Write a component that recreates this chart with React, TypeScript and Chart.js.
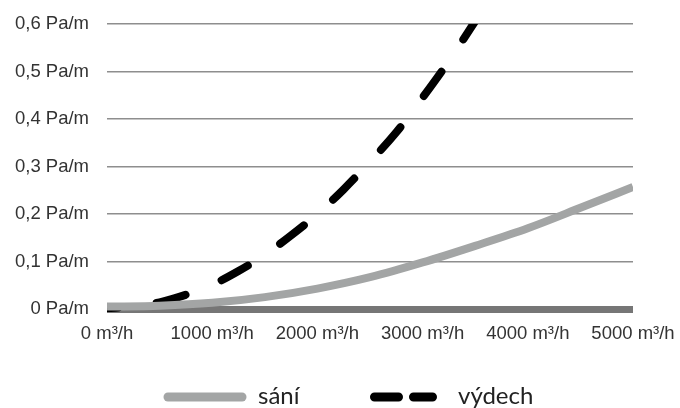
import React, { useEffect, useRef } from 'react';
import { Chart, registerables } from 'chart.js';

Chart.register(...registerables);

// ---- data ----
const seriesLabels = ['sání', 'výdech'];
const xTickValues = [0, 1000, 2000, 3000, 4000, 5000];
const xTickLabels = ['0 m³/h', '1000 m³/h', '2000 m³/h', '3000 m³/h', '4000 m³/h', '5000 m³/h'];
const yTickValues = [0, 0.1, 0.2, 0.3, 0.4, 0.5, 0.6];
const yTickLabels = ['0 Pa/m', '0,1 Pa/m', '0,2 Pa/m', '0,3 Pa/m', '0,4 Pa/m', '0,5 Pa/m', '0,6 Pa/m'];

const saniFlow = [0, 500, 1000, 1500, 2000, 2500, 3000, 3500, 4000, 4500, 5000];
const saniValues = [0.005, 0.007, 0.013, 0.025, 0.043, 0.067, 0.098, 0.133, 0.17, 0.213, 0.257];

const vydechFlow = [0, 250, 500, 750, 1000, 1250, 1500, 1750, 2000, 2250, 2500, 2750, 3000, 3250, 3500, 3600];
const vydechValues = [0.002, 0.005, 0.014, 0.03, 0.051, 0.08, 0.114, 0.155, 0.2, 0.252, 0.31, 0.372, 0.445, 0.522, 0.606, 0.64];

const SANI_COLOR = '#a3a5a5';
const VYDECH_COLOR = '#000000';
const GRID_COLOR = '#8e8e8e';
const ZERO_COLOR = '#767676';
const TEXT_COLOR = '#333333';
const TICK_FONT = { family: '"Liberation Sans", Arial, sans-serif', size: 18.5 };

const legendPlugin = {
  id: 'lineLegend',
  afterDraw(chart: any) {
    const ctx = chart.ctx as CanvasRenderingContext2D;
    const cx = chart.width / 2;
    const y = chart.height - 11;
    ctx.save();
    ctx.lineCap = 'round';
    ctx.lineWidth = 9;
    // sání
    ctx.strokeStyle = SANI_COLOR;
    ctx.beginPath();
    ctx.moveTo(cx - 172, y);
    ctx.lineTo(cx - 98, y);
    ctx.stroke();
    // výdech
    ctx.strokeStyle = VYDECH_COLOR;
    ctx.beginPath();
    ctx.moveTo(cx + 34.5, y);
    ctx.lineTo(cx + 58.5, y);
    ctx.moveTo(cx + 73.5, y);
    ctx.lineTo(cx + 92.5, y);
    ctx.stroke();
    ctx.fillStyle = '#222222';
    ctx.font = '24px Lato';
    ctx.textBaseline = 'alphabetic';
    ctx.textAlign = 'left';
    ctx.fillText(seriesLabels[0], cx - 82, y + 7);
    ctx.fillText(seriesLabels[1], cx + 118, y + 7);
    ctx.restore();
  },
};

export default function App() {
  const ref = useRef<HTMLCanvasElement | null>(null);

  useEffect(() => {
    document.body.style.margin = '0';
    if (!ref.current) return;
    const chart = new Chart(ref.current, {
      type: 'line',
      data: {
        datasets: [
          {
            label: seriesLabels[0],
            data: saniFlow.map((x, i) => ({ x, y: saniValues[i] })),
            borderColor: SANI_COLOR,
            borderWidth: 8,
            borderCapStyle: 'butt',
            pointRadius: 0,
            cubicInterpolationMode: 'monotone',
            fill: false,
            clip: { left: 0, right: 0, top: 0, bottom: 4 },
          },
          {
            label: seriesLabels[1],
            data: vydechFlow.map((x, i) => ({ x, y: vydechValues[i] })),
            borderColor: VYDECH_COLOR,
            borderWidth: 8,
            borderCapStyle: 'round',
            borderDash: [30, 39],
            borderDashOffset: 19,
            pointRadius: 0,
            cubicInterpolationMode: 'monotone',
            fill: false,
            clip: { left: 0, right: 0, top: 0, bottom: 4 },
          },
        ],
      },
      options: {
        responsive: false,
        animation: false,
        layout: { padding: { top: 24, right: 47, left: 0, bottom: 0 } },
        plugins: {
          legend: { display: false },
          tooltip: { enabled: false },
        },
        scales: {
          x: {
            type: 'linear',
            min: 0,
            max: 5000,
            afterBuildTicks: (scale: any) => {
              scale.ticks = xTickValues.map((v) => ({ value: v }));
            },
            afterFit: (scale: any) => {
              scale.height = 99;
              scale.paddingLeft = 0;
              scale.paddingRight = 0;
              scale.paddingTop = 0;
              scale.paddingBottom = 0;
            },
            grid: { display: false, drawTicks: false },
            border: { display: false },
            ticks: {
              padding: 14,
              color: TEXT_COLOR,
              font: TICK_FONT,
              maxRotation: 0,
              autoSkip: false,
              callback: (value: any) => {
                const i = xTickValues.indexOf(Number(value));
                return i >= 0 ? xTickLabels[i] : '';
              },
            },
          },
          y: {
            type: 'linear',
            min: 0,
            max: 0.6,
            afterBuildTicks: (scale: any) => {
              scale.ticks = yTickValues.map((v) => ({ value: v }));
            },
            afterFit: (scale: any) => {
              scale.width = 107;
              scale.paddingLeft = 0;
              scale.paddingRight = 0;
              scale.paddingTop = 0;
              scale.paddingBottom = 0;
            },
            border: { display: false },
            grid: {
              drawTicks: false,
              color: (c: any) => (c.tick && c.tick.value === 0 ? ZERO_COLOR : GRID_COLOR),
              lineWidth: (c: any) => (c.tick && c.tick.value === 0 ? 7 : 1.5),
            },
            ticks: {
              padding: 18,
              color: TEXT_COLOR,
              font: TICK_FONT,
              autoSkip: false,
              callback: (value: any) => {
                const i = yTickValues.findIndex((v) => Math.abs(v - Number(value)) < 1e-9);
                return i >= 0 ? yTickLabels[i] : '';
              },
            },
          },
        },
      },
      plugins: [legendPlugin],
    });
    return () => chart.destroy();
  }, []);

  return (
    <div style={{ width: 680, height: 408, background: '#ffffff' }}>
      <canvas ref={ref} width={680} height={408} style={{ display: 'block' }} />
    </div>
  );
}
